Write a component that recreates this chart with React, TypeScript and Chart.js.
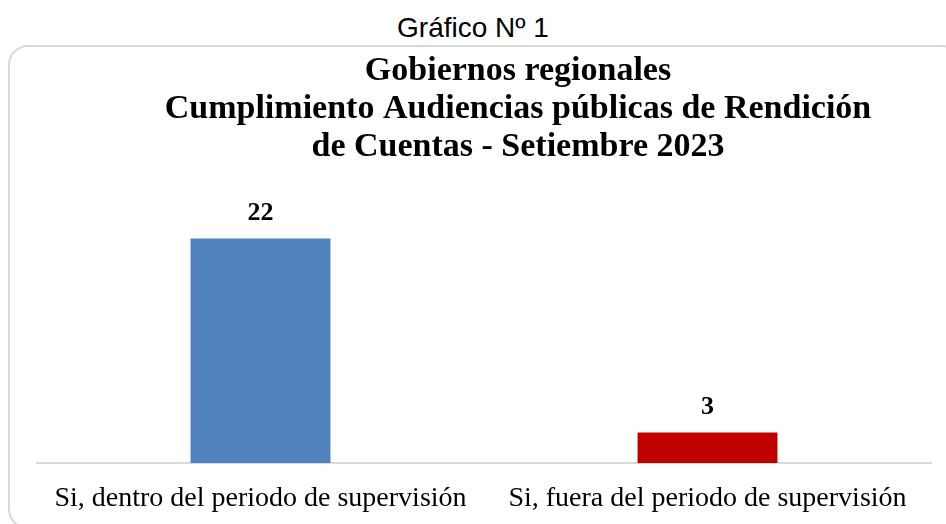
import React, { useEffect, useRef } from "react";
import { Chart, registerables } from "chart.js";

Chart.register(...registerables);

const heading = "Gráfico Nº 1";
const titleLines = [
  "Gobiernos regionales",
  "Cumplimiento Audiencias públicas de Rendición",
  "de Cuentas - Setiembre 2023",
];
const categories = [
  "Si, dentro del periodo de supervisión",
  "Si, fuera del periodo de supervisión",
];
const values = [22, 3];
const barColors = ["#4F81BD", "#C00000"];
const yMax = 25;

const SERIF = "'Liberation Serif', 'DejaVu Serif', serif";

const valueLabels = {
  id: "valueLabels",
  afterDatasetsDraw(chart: any) {
    const ctx = chart.ctx;
    const meta = chart.getDatasetMeta(0);
    ctx.save();
    ctx.font = `bold 26px ${SERIF}`;
    ctx.fillStyle = "#000";
    ctx.textAlign = "center";
    ctx.textBaseline = "middle";
    meta.data.forEach((bar: any, i: number) => {
      const v = chart.data.datasets[0].data[i];
      ctx.fillText(String(v), bar.x, bar.y - 25);
    });
    ctx.restore();
  },
};

export default function App() {
  const ref = useRef<HTMLCanvasElement>(null);

  useEffect(() => {
    if (!ref.current) return;
    const chart = new Chart(ref.current, {
      type: "bar",
      data: {
        labels: categories,
        datasets: [
          {
            data: values,
            backgroundColor: barColors,
            borderWidth: 0,
            barPercentage: 1,
            categoryPercentage: 0.313,
          },
        ],
      },
      options: {
        responsive: false,
        animation: false,
        devicePixelRatio: 1,
        layout: { padding: { left: 37, right: 37, top: 0, bottom: 11 } },
        plugins: {
          legend: { display: false },
          tooltip: { enabled: false },
          title: {
            display: true,
            text: titleLines,
            color: "#000",
            font: { family: SERIF, size: 34, weight: "bold", lineHeight: 38 / 34 },
            padding: { top: 52, bottom: 42 },
          },
        },
        scales: {
          x: {
            grid: { display: false, drawTicks: false },
            border: { display: true, color: "#d9d9d9", width: 2 },
            ticks: {
              color: "#000",
              padding: 19,
              font: { family: SERIF, size: 28, lineHeight: 1.2 },
              maxRotation: 0,
              autoSkip: false,
            },
            afterFit: (s: any) => {
              s.height = 50;
            },
          },
          y: {
            position: "right",
            display: true,
            min: 0,
            max: yMax,
            grid: { display: false, drawTicks: false },
            border: { display: false },
            ticks: { display: false },
            afterFit: (s: any) => {
              s.width = 68;
            },
          },
        },
      },
      plugins: [valueLabels],
    });
    return () => chart.destroy();
  }, []);

  return (
    <div
      style={{
        position: "absolute",
        left: 0,
        top: 0,
        width: 946,
        height: 524,
        overflow: "hidden",
        background: "#fff",
      }}
    >
      <div
        style={{
          position: "absolute",
          left: 0,
          top: 12,
          width: 946,
          textAlign: "center",
          fontFamily: "'Liberation Sans', Arial, sans-serif",
          fontSize: 28,
          lineHeight: "32px",
          color: "#000",
        }}
      >
        {heading}
      </div>
      <div
        style={{
          position: "absolute",
          left: 8,
          top: 45,
          width: 954,
          height: 484,
          border: "2px solid #d9d9d9",
          borderRadius: 20,
          boxSizing: "border-box",
        }}
      />
      <canvas
        ref={ref}
        width={1036}
        height={524}
        style={{ position: "absolute", left: 0, top: 0, width: 1036, height: 524 }}
      />
    </div>
  );
}
